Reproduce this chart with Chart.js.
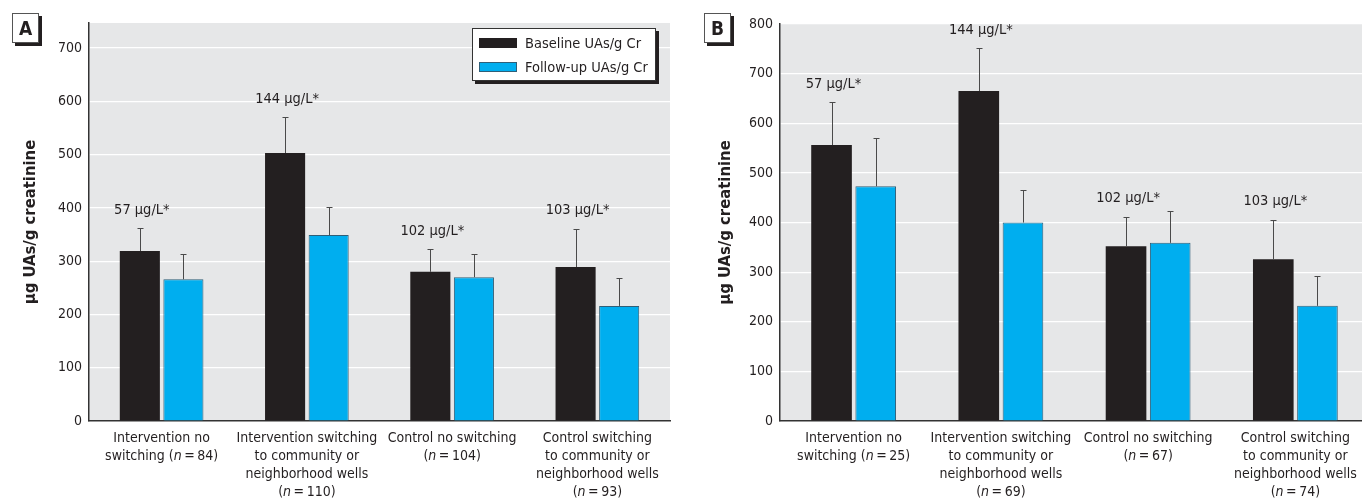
<!DOCTYPE html>
<html>
<head>
<meta charset="utf-8">
<script src="https://cdn.jsdelivr.net/npm/chart.js@4.4.0/dist/chart.umd.min.js"></script>
<style>
  html, body { margin: 0; padding: 0; background: #fff; }
  body { width: 1362px; height: 502px; position: relative; overflow: hidden;
         font-family: 'Liberation Sans Narrow', 'Arial Narrow', 'DejaVu Sans Condensed', sans-serif; color: #231f20; }
  .panel { position: absolute; top: 0; height: 502px; }
  .tag { position: absolute; top: 13px; width: 25px; height: 28px; background: #fff;
         border: 1px solid #555; box-shadow: 3px 3px 0 #231f20; font-weight: bold;
         font-size: 19px; line-height: 28px; text-align: center; }
  .legend { position: absolute; left: 472px; top: 28px; width: 182px; height: 51px; background: #fff;
            border: 1px solid #333; box-shadow: 3px 3px 0 #231f20; font-size: 14.5px; }
  .legend .row { position: absolute; left: 6px; height: 20px; line-height: 20px; white-space: nowrap; }
  .legend .sw { display: inline-block; width: 38px; height: 10px; vertical-align: middle;
                margin-right: 8px; box-sizing: border-box; position: relative; top: -1px; }
</style>
</head>
<body>
<div class="panel" style="left:0;width:690px"><canvas id="chartA" width="690" height="502"></canvas></div>
<div class="panel" style="left:690px;width:690px"><canvas id="chartB" width="690" height="502"></canvas></div>
<div class="tag" style="left:12px">A</div>
<div class="tag" style="left:704px">B</div>
<div class="legend" id="legend"></div>

<script>
// categories
const labelsA = [
  ['Intervention no', 'switching (n\u2009=\u200984)'],
  ['Intervention switching', 'to community or', 'neighborhood wells', '(n\u2009=\u2009110)'],
  ['Control no switching', '(n\u2009=\u2009104)'],
  ['Control switching', 'to community or', 'neighborhood wells', '(n\u2009=\u200993)']
];
const labelsB = [
  ['Intervention no', 'switching (n\u2009=\u200925)'],
  ['Intervention switching', 'to community or', 'neighborhood wells', '(n\u2009=\u200969)'],
  ['Control no switching', '(n\u2009=\u200967)'],
  ['Control switching', 'to community or', 'neighborhood wells', '(n\u2009=\u200974)']
];
const wellLabels = ['57 µg/L*', '144 µg/L*', '102 µg/L*', '103 µg/L*'];

// panel A values
const baselineA = [319, 503, 280, 289];
const followupA = [266, 349, 270, 216];
const baselineErrA = [362, 570, 323, 361];
const followupErrA = [313, 401, 314, 269];

// panel B values
const baselineB = [556, 665, 352, 326];
const followupB = [473, 400, 359, 232];
const baselineErrB = [642, 751, 412, 406];
const followupErrB = [570, 466, 424, 293];

const yTicksA = [0, 100, 200, 300, 400, 500, 600, 700];
const yTicksB = [0, 100, 200, 300, 400, 500, 600, 700, 800];

const seriesNames = ['Baseline UAs/g Cr', 'Follow-up UAs/g Cr'];
const BLACK = '#231f20';
const BLUE = '#00aeef';
const FONT = "'Liberation Sans Narrow', 'Arial Narrow', 'DejaVu Sans Condensed', sans-serif";

// gray plot background
const plotBg = {
  id: 'plotBg',
  beforeDraw(chart) {
    const {ctx, chartArea: a} = chart;
    ctx.save();
    ctx.fillStyle = '#e6e7e8';
    ctx.fillRect(a.left, a.top, a.right - a.left, a.bottom - a.top);
    ctx.restore();
  }
};

// error bars + labels over baseline bars
const errorBars = {
  id: 'errorBars',
  afterDatasetsDraw(chart, args, opts) {
    const {ctx} = chart;
    const y = chart.scales.y;
    ctx.save();
    ctx.strokeStyle = '#4a4a4a';
    ctx.lineWidth = 1;
    chart.data.datasets.forEach((ds, di) => {
      chart.getDatasetMeta(di).data.forEach((bar, i) => {
        const top = Math.round(y.getPixelForValue(ds.errorTop[i])) + 0.5;
        const x = Math.round(bar.x) + 0.5;
        ctx.beginPath();
        ctx.moveTo(x, bar.y);
        ctx.lineTo(x, top);
        ctx.moveTo(x - 3, top);
        ctx.lineTo(x + 3, top);
        ctx.stroke();
      });
    });
    const base = chart.data.datasets[0];
    ctx.fillStyle = BLACK;
    ctx.font = '14.5px ' + FONT;
    ctx.textAlign = 'center';
    ctx.textBaseline = 'middle';
    chart.getDatasetMeta(0).data.forEach((bar, i) => {
      const top = y.getPixelForValue(base.errorTop[i]);
      ctx.fillText(opts.labels[i], bar.x + 2, top - 18);
    });
    ctx.restore();
  }
};

// category labels drawn by hand so the "n" can be italic
const xLabels = {
  id: 'xLabels',
  afterDraw(chart) {
    const {ctx} = chart;
    const xs = chart.scales.x;
    const normal = '14px ' + FONT;
    const italic = 'italic 14px ' + FONT;
    ctx.save();
    ctx.fillStyle = BLACK;
    ctx.textAlign = 'left';
    ctx.textBaseline = 'middle';
    chart.data.labels.forEach((lines, i) => {
      const cx = xs.getPixelForTick(i);
      lines.forEach((line, j) => {
        const k = line.indexOf('n\u2009=');
        const parts = k < 0 ? [[line, normal]]
          : [[line.slice(0, k), normal], ['n', italic], [line.slice(k + 1), normal]];
        let total = 0;
        parts.forEach(p => { ctx.font = p[1]; total += ctx.measureText(p[0]).width; });
        let x = cx - total / 2;
        const yy = xs.top + 17 + j * 18;
        parts.forEach(p => {
          ctx.font = p[1];
          ctx.fillText(p[0], x, yy);
          x += ctx.measureText(p[0]).width;
        });
      });
    });
    ctx.restore();
  }
};

function makeChart(id, labels, base, follow, baseErr, followErr, yMax, yTicks, pad, yWidth) {
  const ctx = document.getElementById(id).getContext('2d');
  return new Chart(ctx, {
    type: 'bar',
    data: {
      labels: labels,
      datasets: [
        {label: seriesNames[0], data: base, errorTop: baseErr, backgroundColor: BLACK,
         borderColor: '#3a3a3a', borderWidth: 0},
        {label: seriesNames[1], data: follow, errorTop: followErr, backgroundColor: BLUE,
         borderColor: '#2f5f78', borderWidth: 1}
      ]
    },
    options: {
      responsive: false,
      animation: false,
      categoryPercentage: 0.6,
      barPercentage: 0.92,
      layout: {padding: pad},
      plugins: {
        legend: {display: false},
        tooltip: {enabled: false},
        errorBars: {labels: wellLabels}
      },
      scales: {
        x: {
          grid: {display: false, drawTicks: false, tickLength: 0},
          border: {display: true, color: '#333', width: 1.5},
          ticks: {display: false},
          afterFit: (s) => { s.height = 81; }
        },
        y: {
          min: 0,
          max: yMax,
          afterBuildTicks: (s) => { s.ticks = yTicks.map(v => ({value: v})); },
          grid: {color: (c) => c.tick && c.tick.value === 0 ? 'rgba(0,0,0,0)' : '#ffffff',
                 lineWidth: 1.2, drawTicks: false, tickLength: 0},
          border: {display: true, color: '#333', width: 1.5},
          ticks: {color: BLACK, padding: 7, font: {family: FONT, size: 14}},
          title: {display: true, text: 'µg UAs/g creatinine', color: BLACK,
                  padding: {top: 0, bottom: 0},
                  font: {family: FONT, size: 16.5, weight: 'bold', lineHeight: 1.2}},
          afterFit: (s) => { s.width = yWidth; }
        }
      }
    },
    plugins: [plotBg, errorBars, xLabels]
  });
}

makeChart('chartA', labelsA, baselineA, followupA, baselineErrA, followupErrA,
          747, yTicksA, {left: 21, right: 20, top: 23, bottom: 0}, 68);
makeChart('chartB', labelsB, baselineB, followupB, baselineErrB, followupErrB,
          800, yTicksB, {left: 26, right: 11, top: 24, bottom: 0}, 64);

// html legend
const legend = document.getElementById('legend');
[[BLACK, 'none'], [BLUE, '1px solid #2f5f78']].forEach((c, i) => {
  const row = document.createElement('div');
  row.className = 'row';
  row.style.top = (4 + i * 24) + 'px';
  const sw = document.createElement('span');
  sw.className = 'sw';
  sw.style.background = c[0];
  sw.style.border = c[1];
  row.appendChild(sw);
  row.appendChild(document.createTextNode(seriesNames[i]));
  legend.appendChild(row);
});
</script>
</body>
</html>
